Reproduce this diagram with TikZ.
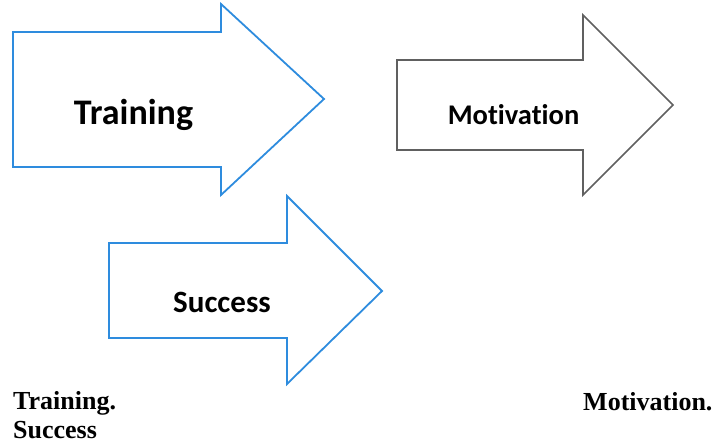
\documentclass[tikz,border=0pt]{standalone}
\usepackage{fontspec}
\setmainfont{Liberation Serif}
\newfontfamily\labelfont[Ligatures=NoCommon]{Carlito}
\begin{document}
\begin{tikzpicture}[x=1pt,y=-1pt,
  bluearrow/.style={draw={rgb,255:red,46;green,140;blue,222},line width=1.8pt,line join=miter,fill=white},
  grayarrow/.style={draw={rgb,255:red,96;green,96;blue,96},line width=1.6pt,line join=miter,fill=white},
  arrowlabel/.style={anchor=base,inner sep=0pt},
  caption/.style={inner sep=0pt,font=\fontsize{26}{30}\selectfont\bfseries}]
\useasboundingbox (0,0) rectangle (727,443);

% block arrows
\draw[bluearrow] (13,32) -- (221,32) -- (221,4) -- (324,99) -- (221,195) -- (221,167) -- (13,167) -- cycle;
\draw[grayarrow] (397,60) -- (583,60) -- (583,15) -- (673,105) -- (583,195) -- (583,150) -- (397,150) -- cycle;
\draw[bluearrow] (109,243) -- (287,243) -- (287,196) -- (382,291) -- (287,384) -- (287,338) -- (109,338) -- cycle;

% labels inside the arrows
\node[arrowlabel,font=\labelfont\bfseries\fontsize{36}{40}\selectfont] (training) at (133.5,125) {Training};
\node[arrowlabel,font=\labelfont\bfseries\fontsize{28.5}{32}\selectfont] (motivation) at (513.5,125) {Motivation};
\node[arrowlabel,font=\labelfont\bfseries\fontsize{31}{34}\selectfont] (success) at (222,312) {Success};

% text below
\node[caption,anchor=base west] (ctraining) at (13,409) {Training.};
\node[caption,anchor=base west] (cmotivation) at (583,410) {Motivation.};
\node[caption,anchor=base west] (csuccess) at (13,438) {Success};
\end{tikzpicture}
\end{document}
